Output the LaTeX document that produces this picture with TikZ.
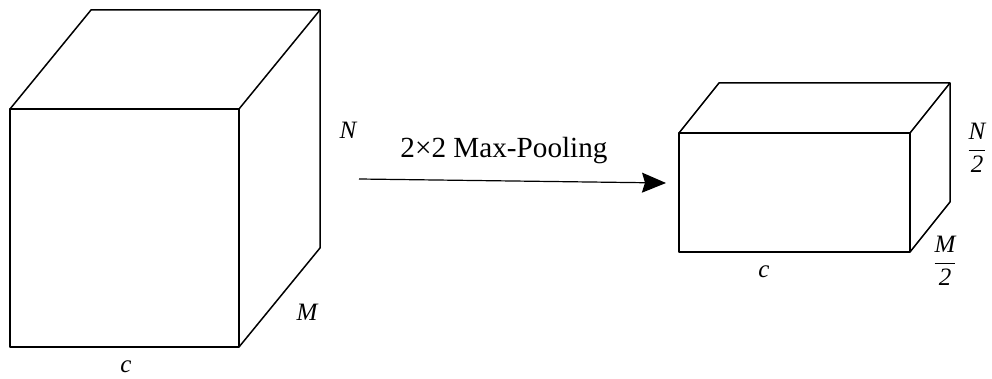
\documentclass[tikz,border=0pt]{standalone}
\usepackage{amsmath}
\usepackage{fontspec}
\setmainfont{Liberation Serif}
\usetikzlibrary{calc,arrows.meta}

\begin{document}
\begin{tikzpicture}[
        x=0.5pt, y=-0.5pt,
        edge/.style={line width=0.75pt, line join=round},
        dim/.style={font=\fontsize{12.5}{14}\selectfont\itshape, inner sep=0pt},
        arrow/.style={line width=0.6pt, -{Stealth[length=12pt, width=10pt, inset=1.5pt]}}
    ]
        \useasboundingbox (0,0) rectangle (992,379);

        % input feature map
        \coordinate (inFL) at (10,109);
        \coordinate (inFR) at (239,109);
        \coordinate (inBR) at (239,347);
        \coordinate (inBL) at (10,347);
        \coordinate (inTL) at ($(inFL)+(81,-99)$);
        \coordinate (inTR) at ($(inFR)+(81,-99)$);
        \coordinate (inRB) at ($(inBR)+(81,-99)$);
        \draw[edge] (inFL) -- (inFR) -- (inBR) -- (inBL) -- cycle;
        \draw[edge] (inFL) -- (inTL) -- (inTR) -- (inFR);
        \draw[edge] (inTR) -- (inRB) -- (inBR);

        \node[dim] (inN) at (348,130) {N};
        \node[dim] (inM) at (307,312) {M};
        \node[dim] (inC) at (126,367) {c};

        % pooled feature map
        \coordinate (outFL) at (679,133);
        \coordinate (outFR) at (910,133);
        \coordinate (outBR) at (910,252);
        \coordinate (outBL) at (679,252);
        \coordinate (outTL) at ($(outFL)+(40,-50)$);
        \coordinate (outTR) at ($(outFR)+(40,-50)$);
        \coordinate (outRB) at ($(outBR)+(40,-50)$);
        \draw[edge] (outFL) -- (outFR) -- (outBR) -- (outBL) -- cycle;
        \draw[edge] (outFL) -- (outTL) -- (outTR) -- (outFR);
        \draw[edge] (outTR) -- (outRB) -- (outBR);

        \node[dim] (outN) at (977,148) {$\dfrac{\textit{N}}{\textit{2}}$};
        \node[dim] (outM) at (945,261) {$\dfrac{\textit{M}}{\textit{2}}$};
        \node[dim] (outC) at (764,272) {c};

        % pooling step
        \coordinate (poolA) at (359,179);
        \coordinate (poolB) at (666,183);
        \draw[arrow] (poolA) -- (poolB);
        \node[font=\fontsize{14.6}{17}\selectfont, inner sep=0pt] (poolLbl) at (504,151) {2×2 Max-Pooling};
    \end{tikzpicture}
\end{document}
